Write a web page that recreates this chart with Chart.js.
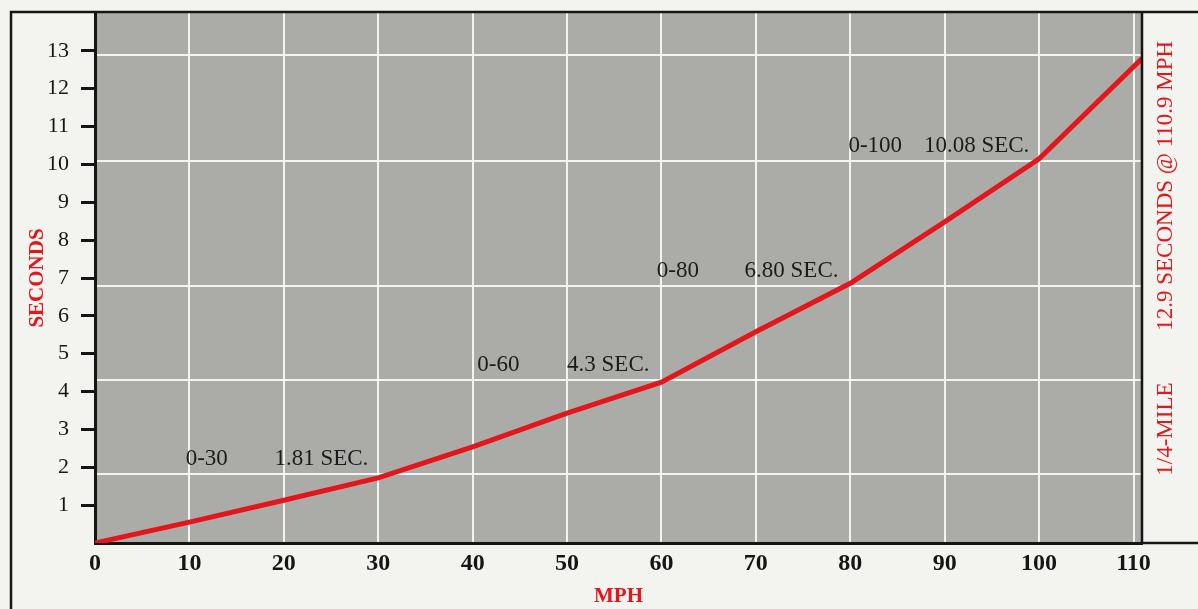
<!DOCTYPE html>
<html>
<head>
<meta charset="utf-8">
<script src="https://cdn.jsdelivr.net/npm/chart.js@4.4.1/dist/chart.umd.min.js"></script>
<style>
  html, body { margin: 0; padding: 0; background: #f3f3f0; }
  #wrap { width: 1198px; height: 609px; }
</style>
</head>
<body>
<div id="wrap"><canvas id="accel" width="1198" height="609"></canvas></div>
<script>
// Acceleration curve
const mph = [0, 10, 20, 30, 40, 50, 60, 70, 80, 90, 100, 110.9];
const seconds = [0, 0.55, 1.13, 1.72, 2.54, 3.43, 4.25, 5.58, 6.86, 8.48, 10.15, 12.8];

// Tick labels
const mphTicks = [0, 10, 20, 30, 40, 50, 60, 70, 80, 90, 100, 110];
const secTicks = [1, 2, 3, 4, 5, 6, 7, 8, 9, 10, 11, 12, 13];

// White guide lines sit at the quoted times, not at the ticks
const guideSeconds = [1.81, 4.3, 6.8, 10.08, 12.9];

// Split callouts
const splitRanges = ['0-30', '0-60', '0-80', '0-100'];
const splitTimes = ['1.81 SEC.', '4.3 SEC.', '6.80 SEC.', '10.08 SEC.'];
const splitSeconds = [1.81, 4.3, 6.8, 10.08];
const rangeAtMph = [9.6, 40.5, 59.5, 79.8];
const timeAtMph = [19, 50, 68.8, 87.8];

const quarterMile = '1/4-MILE';
const quarterResult = '12.9 SECONDS @ 110.9 MPH';

const RED = '#e3161c';
const INK = '#151515';
const SERIF = '"Liberation Serif", "Times New Roman", serif';
const FRAME_X = 11;

// keep the axes from pushing the plot area around
const noPad = s => { s.paddingTop = 0; s.paddingBottom = 0; s.paddingLeft = 0; s.paddingRight = 0; };

const framePlugin = {
  id: 'frame',
  beforeDraw(chart) {
    const { ctx, chartArea: a, width, height } = chart;
    ctx.save();
    ctx.fillStyle = '#f3f3f0';
    ctx.fillRect(0, 0, width, height);
    ctx.fillStyle = '#abaca8';
    ctx.fillRect(a.left, a.top, a.right - a.left, a.bottom - a.top);
    ctx.restore();
  },
  afterDraw(chart) {
    const { ctx, chartArea: a, width, height, scales } = chart;
    ctx.save();

    // outer frame, right border of the plot, axis running out to the edge
    ctx.strokeStyle = INK;
    ctx.lineWidth = 2.5;
    ctx.beginPath();
    ctx.moveTo(FRAME_X, height);
    ctx.lineTo(FRAME_X, a.top - 1);
    ctx.lineTo(width, a.top - 1);
    ctx.moveTo(a.right, a.top - 1);
    ctx.lineTo(a.right, a.bottom + 1);
    ctx.moveTo(a.right, a.bottom);
    ctx.lineTo(width, a.bottom);
    ctx.stroke();

    // split callouts
    ctx.fillStyle = '#1b1b1b';
    ctx.font = '23px ' + SERIF;
    ctx.textAlign = 'left';
    ctx.textBaseline = 'alphabetic';
    splitRanges.forEach((r, i) => {
      const y = scales.y.getPixelForValue(splitSeconds[i]) - 9;
      ctx.fillText(r, scales.x.getPixelForValue(rangeAtMph[i]), y);
      ctx.fillText(splitTimes[i], scales.x.getPixelForValue(timeAtMph[i]), y);
    });

    // quarter-mile note, reading upward on the right
    ctx.fillStyle = RED;
    ctx.font = '23px ' + SERIF;
    ctx.textAlign = 'center';
    ctx.textBaseline = 'middle';
    const cx = a.right + 24;
    const h = a.bottom - a.top;
    [[quarterResult, 0.326], [quarterMile, 0.785]].forEach(([txt, f]) => {
      ctx.save();
      ctx.translate(cx, a.top + h * f);
      ctx.rotate(-Math.PI / 2);
      ctx.fillText(txt, 0, 0);
      ctx.restore();
    });

    ctx.restore();
  }
};

new Chart(document.getElementById('accel'), {
  type: 'line',
  data: {
    datasets: [{
      data: mph.map((x, i) => ({ x: x, y: seconds[i] })),
      borderColor: RED,
      borderWidth: 5,
      pointRadius: 0,
      pointHoverRadius: 0,
      tension: 0,
      fill: false
    }]
  },
  options: {
    responsive: false,
    animation: false,
    layout: { autoPadding: false, padding: { left: FRAME_X, top: 13, right: 56, bottom: 0 } },
    plugins: { legend: { display: false }, tooltip: { enabled: false } },
    scales: {
      x: {
        type: 'linear',
        min: 0,
        max: 110.9,
        afterBuildTicks: s => { s.ticks = mphTicks.map(v => ({ value: v })); },
        afterFit: s => { s.height = 66; noPad(s); },
        grid: { color: 'rgba(255,255,255,0.85)', lineWidth: 2, drawTicks: false },
        border: { display: true, color: INK, width: 3 },
        ticks: {
          color: INK,
          padding: 6,
          maxRotation: 0,
          autoSkip: false,
          font: { family: SERIF, size: 24, weight: 'bold' }
        },
        title: {
          display: true,
          text: 'MPH',
          color: RED,
          padding: { top: 0, bottom: 0 },
          font: { family: SERIF, size: 21, weight: 'bold' }
        }
      },
      y: {
        type: 'linear',
        position: 'left',
        min: 0,
        max: 14,
        afterBuildTicks: s => { s.ticks = secTicks.map(v => ({ value: v })); },
        afterFit: s => { s.width = 84; noPad(s); },
        grid: {
          drawOnChartArea: false,
          drawTicks: true,
          tickLength: 14,
          tickWidth: 3,
          tickColor: INK
        },
        border: { display: true, color: INK, width: 3 },
        ticks: {
          color: INK,
          padding: 12,
          autoSkip: false,
          font: { family: SERIF, size: 22 }
        },
        title: {
          display: true,
          text: 'SECONDS',
          color: RED,
          padding: { top: 14, bottom: 0 },
          font: { family: SERIF, size: 21, weight: 'bold' }
        }
      },
      guides: {
        type: 'linear',
        position: 'right',
        min: 0,
        max: 14,
        afterBuildTicks: s => { s.ticks = guideSeconds.map(v => ({ value: v })); },
        afterFit: s => { s.width = 0; noPad(s); },
        grid: { color: 'rgba(255,255,255,0.85)', lineWidth: 2, drawTicks: false },
        border: { display: false },
        ticks: { display: false }
      }
    }
  },
  plugins: [framePlugin]
});
</script>
</body>
</html>
